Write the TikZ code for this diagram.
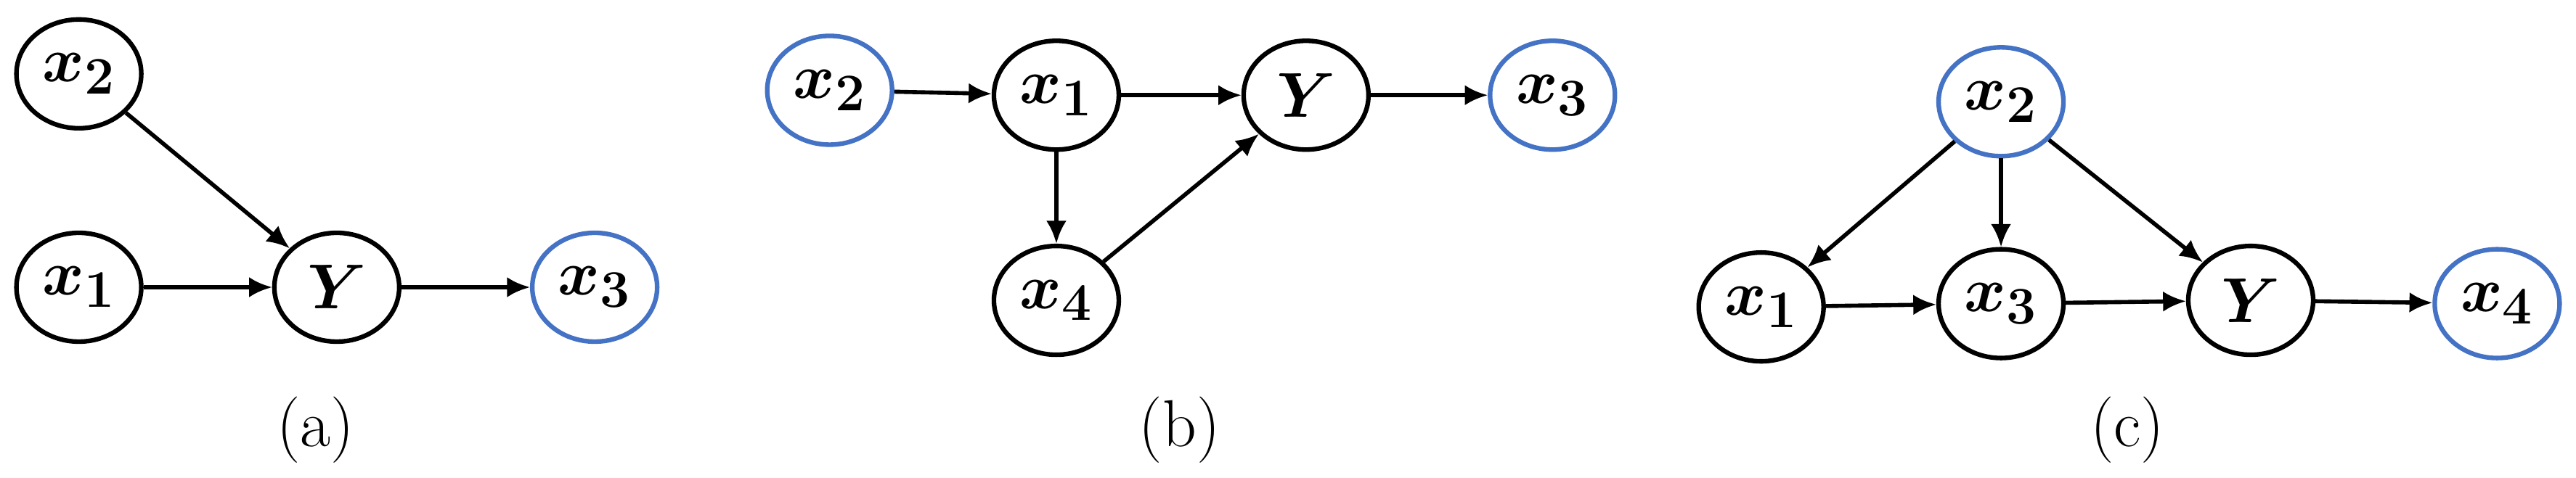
\documentclass[tikz,border=0pt]{standalone}
\usepackage{bm}
\usetikzlibrary{arrows.meta,shapes.geometric}
\definecolor{nblue}{HTML}{4472C4}
\begin{document}
\begin{tikzpicture}[x=0.022628cm,y=-0.022628cm,
  v/.style={draw=black,line width=1.8pt,ellipse,minimum width=1.72cm,minimum height=1.5cm,inner sep=0pt,font=\fontsize{28}{30}\selectfont},
  b/.style={v,draw=nblue},
  e/.style={line width=1.6pt,-{Latex[length=9pt,width=8pt]}},
  lab/.style={font=\fontsize{26}{28}\selectfont}]
\useasboundingbox (0,0) rectangle (1568,291);
% (a)
\node[v] (a2) at (48,45) {$\bm{x_2}$};
\node[v] (a1) at (48,175) {$\bm{x_1}$};
\node[v] (aY) at (205,175) {$\bm{Y}$};
\node[b] (a3) at (362,175) {$\bm{x_3}$};
\draw[e] (a2) -- (aY);
\draw[e] (a1) -- (aY);
\draw[e] (aY) -- (a3);
\node[lab] (la) at (192,262) {(a)};
% (b)
\node[b] (b2) at (505,55) {$\bm{x_2}$};
\node[v] (b1) at (643,58) {$\bm{x_1}$};
\node[v] (bY) at (795,58) {$\bm{Y}$};
\node[b] (b3) at (945,58) {$\bm{x_3}$};
\node[v] (b4) at (643,183) {$\bm{x_4}$};
\draw[e] (b2) -- (b1);
\draw[e] (b1) -- (bY);
\draw[e] (bY) -- (b3);
\draw[e] (b1) -- (b4);
\draw[e] (b4) -- (bY);
\node[lab] (lb) at (718,262) {(b)};
% (c)
\node[b] (c2) at (1218,62) {$\bm{x_2}$};
\node[v] (c1) at (1072,187) {$\bm{x_1}$};
\node[v] (c3) at (1218,185) {$\bm{x_3}$};
\node[v] (cY) at (1370,183) {$\bm{Y}$};
\node[b] (c4) at (1520,185) {$\bm{x_4}$};
\draw[e] (c2) -- (c1);
\draw[e] (c2) -- (c3);
\draw[e] (c2) -- (cY);
\draw[e] (c1) -- (c3);
\draw[e] (c3) -- (cY);
\draw[e] (cY) -- (c4);
\node[lab] (lc) at (1295,262) {(c)};
\end{tikzpicture}
\end{document}
